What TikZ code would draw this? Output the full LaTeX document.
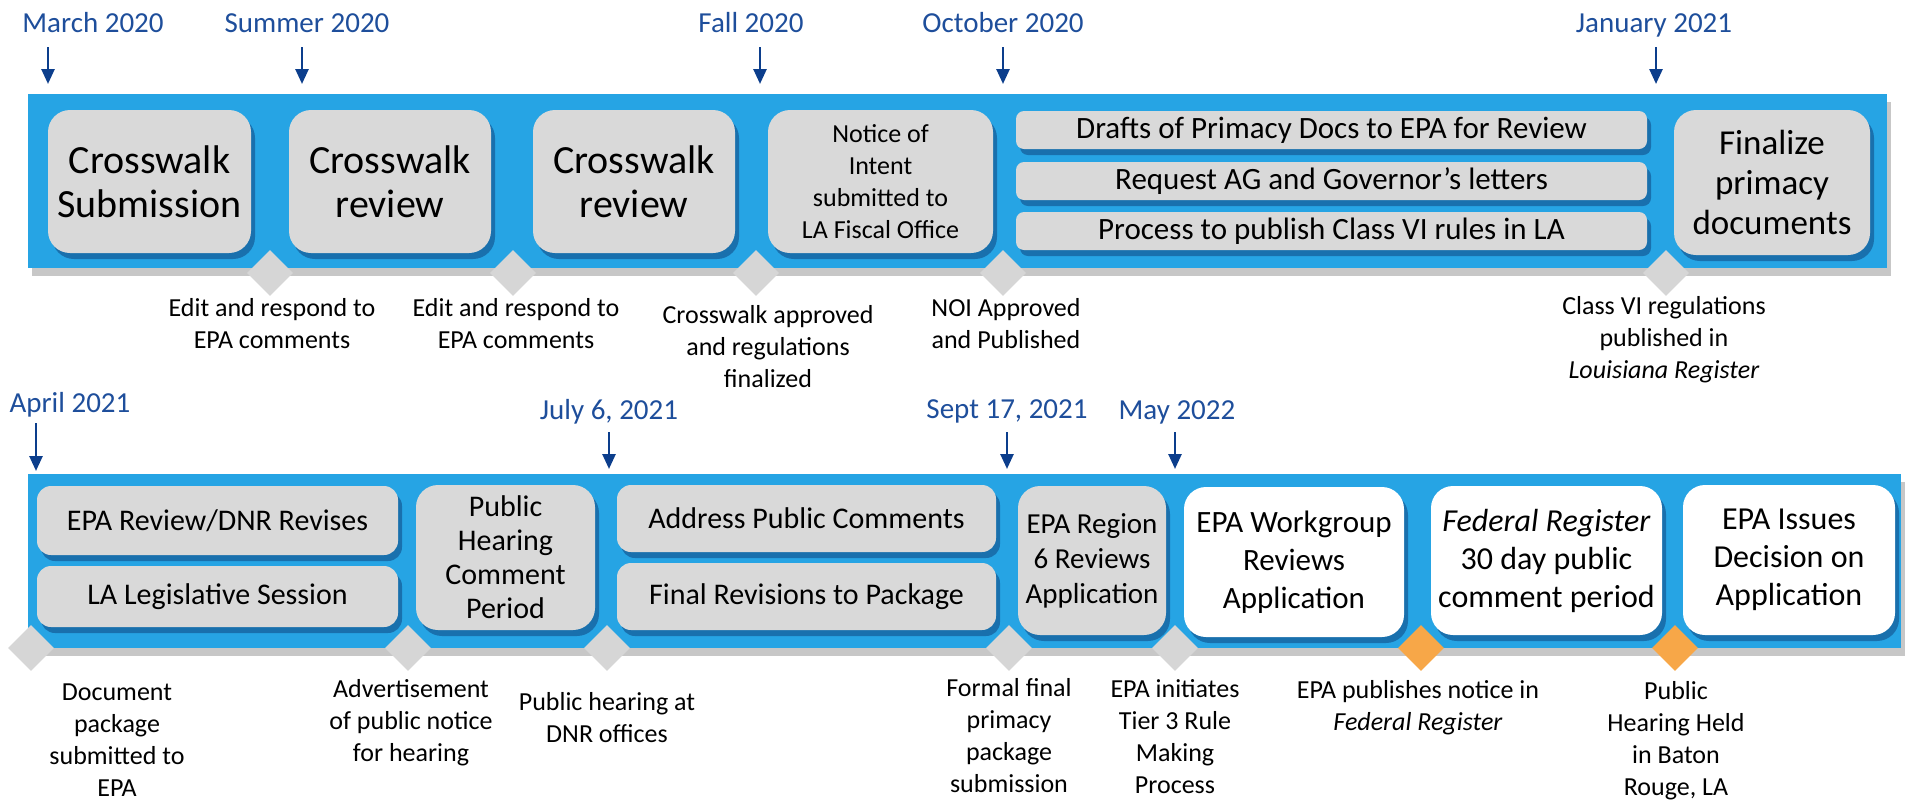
\documentclass[tikz,border=0pt]{standalone}
\usepackage{fontspec}
\setmainfont{Carlito}
\usetikzlibrary{shapes.geometric,arrows.meta,shadows}
\definecolor{bandblue}{RGB}{38,164,228}
\definecolor{datecol}{RGB}{30,78,155}
\definecolor{arrcol}{RGB}{12,62,140}
\definecolor{boxgray}{RGB}{217,217,217}
\definecolor{diagray}{RGB}{214,214,214}
\definecolor{diaorange}{RGB}{247,167,72}
\definecolor{shblue}{RGB}{20,90,150}
\tikzset{
  band/.style={fill=bandblue, draw=none, drop shadow={shadow xshift=4pt, shadow yshift=-8pt, fill=black, opacity=0.22}},
  gbox/.style={fill=boxgray, draw=none, rounded corners=22pt, align=center, inner sep=0pt,
     drop shadow={shadow xshift=4pt, shadow yshift=-6pt, fill=shblue, opacity=0.7}},
  barbox/.style={gbox, rounded corners=8pt},
  wbox/.style={gbox, fill=white},
  dia/.style={diamond, aspect=1, inner sep=0pt, minimum width=46pt, minimum height=46pt, draw=none, fill=diagray},
  odia/.style={dia, fill=diaorange},
  datelbl/.style={text=datecol, inner sep=0pt, anchor=base, font=\fontsize{29}{34}\selectfont},
  darr/.style={draw=arrcol, line width=2.6pt, -{Triangle[length=15pt,width=13pt]}},
  lbl/.style={align=center, inner sep=0pt, font=\fontsize{26}{32}\selectfont},
}
\begin{document}
\begin{tikzpicture}[x=1pt,y=-1pt]
\useasboundingbox (0,0) rectangle (1905,804);
% ---------- top row ----------
\path[band] (28,94) rectangle (1887,268);
\node[gbox, minimum width=203pt, minimum height=143pt, font=\fontsize{40}{44}\selectfont] (b1) at (149.5,181.5) {Crosswalk\\Submission};
\node[gbox, minimum width=202pt, minimum height=143pt, font=\fontsize{40}{44}\selectfont] (b2) at (390,181.5) {Crosswalk\\review};
\node[gbox, minimum width=202pt, minimum height=143pt, font=\fontsize{40}{44}\selectfont] (b3) at (634,181.5) {Crosswalk\\review};
\node[gbox, minimum width=225pt, minimum height=143pt, font=\fontsize{26}{32}\selectfont] (b4) at (880.5,181.5) {Notice of\\Intent\\submitted to\\LA Fiscal Office};
\node[barbox, minimum width=631pt, minimum height=38pt, font=\fontsize{31}{34}\selectfont] (bar1) at (1331.5,130) {Drafts of Primacy Docs to EPA for Review};
\node[barbox, minimum width=631pt, minimum height=38pt, font=\fontsize{31}{34}\selectfont] (bar2) at (1331.5,181) {Request AG and Governor’s letters};
\node[barbox, minimum width=631pt, minimum height=38pt, font=\fontsize{31}{34}\selectfont] (bar3) at (1331.5,231) {Process to publish Class VI rules in LA};
\node[gbox, minimum width=196pt, minimum height=145pt, font=\fontsize{35}{40}\selectfont] (b6) at (1772,182.5) {Finalize\\primacy\\documents};
\node[dia] (d1) at (270,273) {};
\node[dia] (d2) at (513,273) {};
\node[dia] (d3) at (756,273) {};
\node[dia] (d4) at (1003,273) {};
\node[dia] (d5) at (1666,273) {};
\node[lbl] (l1) at (272,324) {Edit and respond to\\EPA comments};
\node[lbl] (l2) at (516,324) {Edit and respond to\\EPA comments};
\node[lbl] (l3) at (768,347) {Crosswalk approved\\and regulations\\finalized};
\node[lbl] (l4) at (1006,324) {NOI Approved\\and Published};
\node[lbl] (l5) at (1664,340) {Class VI regulations\\published in\\\textit{Louisiana Register}};
\node[datelbl] (t1) at (93,32) {March 2020};
\node[datelbl] (t2) at (307,32) {Summer 2020};
\node[datelbl] (t3) at (751,32) {Fall 2020};
\node[datelbl] (t4) at (1003,32) {October 2020};
\node[datelbl] (t5) at (1654,32) {January 2021};
\coordinate (a1s) at (48,47);   \coordinate (a1e) at (48,84);
\coordinate (a2s) at (302,47);  \coordinate (a2e) at (302,84);
\coordinate (a3s) at (760,47);  \coordinate (a3e) at (760,84);
\coordinate (a4s) at (1003,47); \coordinate (a4e) at (1003,84);
\coordinate (a5s) at (1656,47); \coordinate (a5e) at (1656,84);
\draw[darr] (a1s) -- (a1e);
\draw[darr] (a2s) -- (a2e);
\draw[darr] (a3s) -- (a3e);
\draw[darr] (a4s) -- (a4e);
\draw[darr] (a5s) -- (a5e);
% ---------- bottom row ----------
\path[band] (28,474) rectangle (1901,648);
\node[gbox, rounded corners=14pt, minimum width=361pt, minimum height=69pt, font=\fontsize{30}{34}\selectfont] (c1) at (217.5,520.5) {EPA Review/DNR Revises};
\node[gbox, rounded corners=14pt, minimum width=361pt, minimum height=61pt, font=\fontsize{30}{34}\selectfont] (c2) at (217.5,596.5) {LA Legislative Session};
\node[gbox, minimum width=179pt, minimum height=145pt, font=\fontsize{30}{34}\selectfont] (c3) at (505.5,557.5) {Public\\Hearing\\Comment\\Period};
\node[gbox, rounded corners=14pt, minimum width=379pt, minimum height=67pt, font=\fontsize{30}{34}\selectfont] (c4) at (806.5,518.5) {Address Public Comments};
\node[gbox, rounded corners=14pt, minimum width=379pt, minimum height=67pt, font=\fontsize{30}{34}\selectfont] (c5) at (806.5,596.5) {Final Revisions to Package};
\node[gbox, minimum width=148pt, minimum height=149pt, font=\fontsize{29}{35}\selectfont] (c6) at (1092,560.5) {EPA Region\\6 Reviews\\Application};
\node[wbox, minimum width=220pt, minimum height=150pt, font=\fontsize{31}{38}\selectfont] (c7) at (1294,562) {EPA Workgroup\\Reviews\\Application};
\node[wbox, minimum width=231pt, minimum height=149pt, font=\fontsize{32}{38}\selectfont] (c8) at (1546.5,560.5) {\textit{Federal Register}\\30 day public\\comment period};
\node[wbox, minimum width=212pt, minimum height=150pt, font=\fontsize{32}{38}\selectfont] (c9) at (1789,560) {EPA Issues\\Decision on\\Application};
\node[dia] (e1) at (31,648) {};
\node[dia] (e2) at (408,648) {};
\node[dia] (e3) at (607,648) {};
\node[dia] (e4) at (1009,648) {};
\node[dia] (e5) at (1175,648) {};
\node[odia] (e6) at (1421,648) {};
\node[odia] (e7) at (1675,648) {};
\node[lbl] (m1) at (117,740) {Document\\package\\submitted to\\EPA};
\node[lbl] (m2) at (411,723) {Advertisement\\of public notice\\for hearing};
\node[lbl] (m3) at (607,718) {Public hearing at\\DNR offices};
\node[lbl] (m4) at (1009,736) {Formal final\\primacy\\package\\submission};
\node[lbl] (m5) at (1175,737) {EPA initiates\\Tier 3 Rule\\Making\\Process};
\node[lbl] (m6) at (1418,708) {EPA publishes notice in\\\textit{Federal Register}};
\node[lbl] (m7) at (1676,741) {Public\\Hearing Held\\in Baton\\Rouge, LA};
\node[datelbl] (u1) at (70,412) {April 2021};
\node[datelbl] (u2) at (609,419) {July 6, 2021};
\node[datelbl] (u3) at (1007,418) {Sept 17, 2021};
\node[datelbl] (u4) at (1177,419) {May 2022};
\coordinate (g1s) at (36,423);   \coordinate (g1e) at (36,471);
\coordinate (g2s) at (609,432);  \coordinate (g2e) at (609,469);
\coordinate (g3s) at (1007,432); \coordinate (g3e) at (1007,469);
\coordinate (g4s) at (1175,432); \coordinate (g4e) at (1175,469);
\draw[darr] (g1s) -- (g1e);
\draw[darr] (g2s) -- (g2e);
\draw[darr] (g3s) -- (g3e);
\draw[darr] (g4s) -- (g4e);
\end{tikzpicture}
\end{document}
